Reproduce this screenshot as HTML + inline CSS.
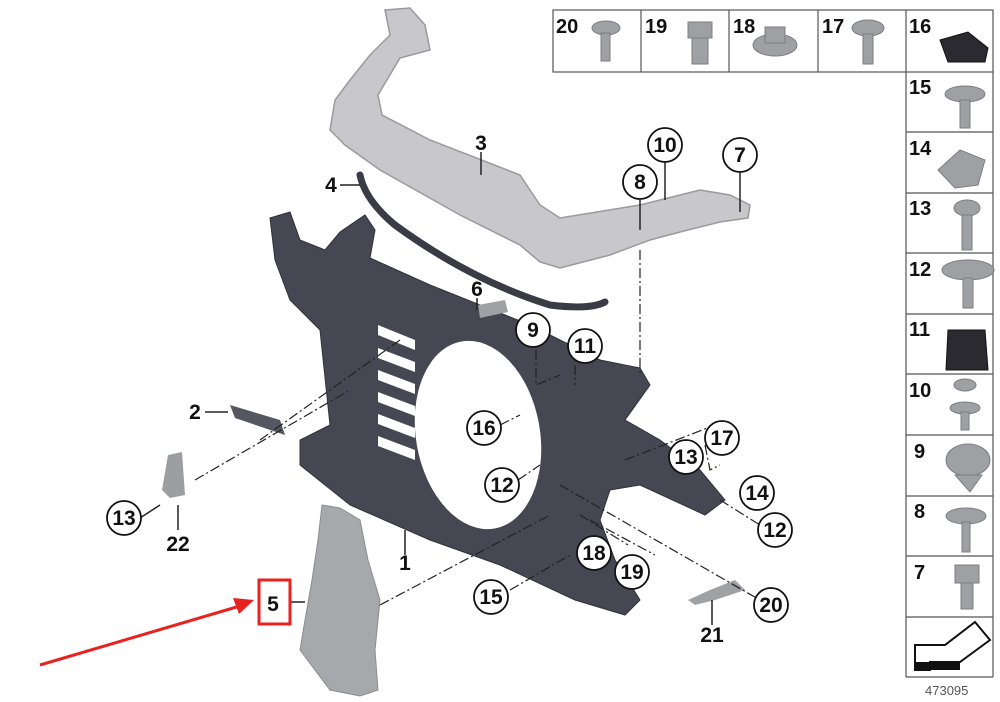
<!DOCTYPE html>
<html><head><meta charset="utf-8"><style>
body{margin:0;background:#fff;}
svg{display:block;font-family:"Liberation Sans",Arial,sans-serif;font-weight:bold;}
</style></head><body>
<svg width="1000" height="702" viewBox="0 0 1000 702" xmlns="http://www.w3.org/2000/svg">
<!-- part 3 bracket -->
<path d="M385,10 L410,8 L425,25 L430,50 L400,58 L378,95 L382,115 L430,140 L520,175 L540,205 L560,218 L640,205 L700,190 L730,195 L750,205 L748,218 L720,222 L680,232 L650,240 L610,255 L560,268 L540,262 L520,245 L460,215 L380,170 L345,145 L330,130 L335,100 L350,80 L370,55 L390,35 Z" fill="#c8c8ca" stroke="#9a9a9e" stroke-width="1.5"/>
<!-- part 4 hose -->
<path d="M360,175 Q365,200 395,225 Q470,280 550,305 Q590,310 605,302" fill="none" stroke="#3a3b45" stroke-width="7" stroke-linecap="round"/>
<!-- frame -->
<path d="M270,218 L290,212 L300,240 L325,250 L340,232 L365,215 L375,230 L370,258 L430,285 L530,325 L600,360 L640,368 L650,385 L625,420 L660,440 L700,470 L725,500 L705,515 L640,485 L610,490 L600,520 L615,560 L640,600 L625,615 L575,600 L500,565 L430,540 L350,505 L300,465 L300,440 L330,425 L320,330 L290,300 L275,260 Z" fill="#464752" stroke="#30313a" stroke-width="1"/>
<ellipse cx="478" cy="435" rx="62" ry="95" transform="rotate(-10 478 435)" fill="#fff"/>
<g fill="#fff">
<polygon points="378,325 415,340 415,350 378,335"/>
<polygon points="378,348 415,362 415,372 378,358"/>
<polygon points="378,370 415,384 415,394 378,380"/>
<polygon points="378,392 415,406 415,416 378,402"/>
<polygon points="378,414 415,428 415,438 378,424"/>
<polygon points="378,436 415,450 415,460 378,446"/>
</g>
<!-- part 5 -->
<path d="M322,505 L340,508 L360,520 L368,560 L380,600 L375,650 L378,690 L360,696 L330,690 L300,650 L305,620 L312,580 L318,540 Z" fill="#a7a8ac" stroke="#8c8d91"/>
<!-- small parts -->
<path d="M230,405 L280,420 L285,435 L235,418 Z" fill="#55565f"/>
<path d="M168,455 L182,452 L185,495 L170,498 L162,490 Z" fill="#9d9ea2"/>
<path d="M478,305 L505,300 L508,312 L480,318 Z" fill="#a0a1a5"/>
<path d="M688,600 L710,590 L735,580 L745,590 L715,600 L695,605 Z" fill="#a0a1a5"/>
<!-- leader lines -->
<g stroke="#222" stroke-width="1.5" fill="none">
<path d="M340,185 L360,185"/><path d="M481,152 L481,175"/>
<path d="M205,412 L228,412"/><path d="M477,298 L477,310"/>
<path d="M405,555 L405,530"/><path d="M178,530 L178,505"/>
<path d="M712,625 L712,600"/><path d="M290,602 L305,602"/>
<path d="M640,200 L640,230"/><path d="M665,162 L665,200"/><path d="M740,172 L740,212"/>
<path d="M140,518 L160,505"/>
</g>
<g stroke="#222" stroke-width="1.2" fill="none" stroke-dasharray="10,3,2,3">
<path d="M640,250 L640,375"/><path d="M195,480 L350,390"/><path d="M260,440 L400,340"/>
<path d="M380,605 L550,515"/><path d="M560,485 L760,600"/><path d="M625,460 L715,425"/>
<path d="M500,425 L520,415"/><path d="M518,480 L540,465"/><path d="M510,590 L570,555"/>
<path d="M720,500 L760,525"/><path d="M590,520 L655,555"/><path d="M580,515 L628,545"/>
<path d="M536,350 L536,385 L560,375"/><path d="M575,365 L575,385"/><path d="M705,445 L710,470 L720,465"/>
</g>
<!-- red arrow -->
<line x1="40" y1="665" x2="240" y2="606" stroke="#e8231f" stroke-width="3"/>
<polygon points="254,600 233,598 239,614" fill="#e8231f"/>
<rect x="259" y="580" width="31" height="44" fill="none" stroke="#e8231f" stroke-width="3"/>
<!-- plain labels -->
<g font-size="21" fill="#111" text-anchor="middle">
<text x="481" y="150">3</text><text x="331" y="192">4</text><text x="477" y="296">6</text>
<text x="195" y="419">2</text><text x="405" y="570">1</text><text x="178" y="551">22</text>
<text x="712" y="642">21</text><text x="273" y="611">5</text>
</g>
<!-- circled labels -->
<g font-size="21" fill="#111" text-anchor="middle" stroke="none">
<g fill="#fff" stroke="#111" stroke-width="1.8">
<circle cx="665" cy="145" r="17"/><circle cx="640" cy="182" r="17"/><circle cx="740" cy="155" r="17"/>
<circle cx="533" cy="330" r="17"/><circle cx="585" cy="346" r="17"/><circle cx="484" cy="428" r="17"/>
<circle cx="722" cy="438" r="17"/><circle cx="686" cy="457" r="17"/><circle cx="757" cy="493" r="17"/>
<circle cx="502" cy="485" r="17"/><circle cx="775" cy="530" r="17"/><circle cx="594" cy="553" r="17"/>
<circle cx="632" cy="572" r="17"/><circle cx="491" cy="597" r="17"/><circle cx="771" cy="605" r="17"/>
<circle cx="124" cy="518" r="17"/>
</g>
<text x="665" y="152">10</text><text x="640" y="189">8</text><text x="740" y="162">7</text>
<text x="533" y="337">9</text><text x="585" y="353">11</text><text x="484" y="435">16</text>
<text x="722" y="445">17</text><text x="686" y="464">13</text><text x="757" y="500">14</text>
<text x="502" y="492">12</text><text x="775" y="537">12</text><text x="594" y="560">18</text>
<text x="632" y="579">19</text><text x="491" y="604">15</text><text x="771" y="612">20</text>
<text x="124" y="525">13</text>
</g>
<!-- parts grid -->
<g fill="none" stroke="#555" stroke-width="1.2">
<rect x="553" y="10" width="440" height="62"/>
<line x1="641" y1="10" x2="641" y2="72"/><line x1="729" y1="10" x2="729" y2="72"/>
<line x1="818" y1="10" x2="818" y2="72"/><line x1="906" y1="10" x2="906" y2="677"/>
<line x1="993" y1="72" x2="993" y2="677"/><line x1="906" y1="677" x2="993" y2="677"/>
<line x1="906" y1="132" x2="993" y2="132"/><line x1="906" y1="193" x2="993" y2="193"/>
<line x1="906" y1="253" x2="993" y2="253"/><line x1="906" y1="314" x2="993" y2="314"/>
<line x1="906" y1="374" x2="993" y2="374"/><line x1="906" y1="435" x2="993" y2="435"/>
<line x1="906" y1="496" x2="993" y2="496"/><line x1="906" y1="556" x2="993" y2="556"/>
<line x1="906" y1="617" x2="993" y2="617"/>
</g>
<g font-size="20" fill="#111">
<text x="556" y="33">20</text><text x="645" y="33">19</text><text x="733" y="33">18</text>
<text x="822" y="33">17</text><text x="909" y="33">16</text>
<text x="909" y="94">15</text><text x="909" y="155">14</text><text x="909" y="215">13</text>
<text x="909" y="276">12</text><text x="909" y="336">11</text><text x="909" y="397">10</text>
<text x="914" y="458">9</text><text x="914" y="518">8</text><text x="914" y="579">7</text>
</g>
<!-- fastener icons -->
<g fill="#9fa0a4" stroke="#7c7d82">
<ellipse cx="606" cy="28" rx="14" ry="7"/><rect x="601" y="33" width="9" height="28"/>
<rect x="688" y="22" width="24" height="16"/><rect x="692" y="38" width="16" height="26"/>
<ellipse cx="775" cy="45" rx="22" ry="11"/><rect x="765" y="27" width="20" height="16"/>
<ellipse cx="868" cy="28" rx="16" ry="8"/><rect x="863" y="34" width="10" height="30"/>
<path d="M940,40 L968,32 L988,48 L985,62 L948,62 Z" fill="#2a2a30" stroke="#111"/>
<ellipse cx="965" cy="94" rx="20" ry="8"/><rect x="960" y="100" width="10" height="28"/>
<path d="M938,170 L960,150 L985,160 L978,185 L955,188 Z"/>
<ellipse cx="967" cy="208" rx="13" ry="8"/><rect x="962" y="215" width="10" height="35"/>
<ellipse cx="968" cy="270" rx="26" ry="10"/><rect x="963" y="278" width="10" height="30"/>
<path d="M948,330 L985,330 L988,370 L946,370 Z" fill="#2a2a30" stroke="#111"/>
<ellipse cx="965" cy="385" rx="11" ry="6"/><ellipse cx="965" cy="408" rx="15" ry="6"/><rect x="961" y="412" width="8" height="18"/>
<ellipse cx="968" cy="460" rx="22" ry="16"/><path d="M955,475 L982,475 L970,492 Z"/>
<ellipse cx="966" cy="516" rx="20" ry="8"/><rect x="962" y="522" width="8" height="30"/>
<rect x="955" y="565" width="24" height="18"/><rect x="961" y="583" width="12" height="26"/>
</g>
<path d="M915,670 L915,645 L945,645 L975,622 L990,640 L960,662 L930,662 L930,670 Z" fill="#fff" stroke="#111" stroke-width="2"/>
<rect x="915" y="662" width="45" height="8" fill="#111"/>
<text x="925" y="695" font-size="13" font-weight="normal" fill="#555">473095</text>
</svg>
</body></html>
